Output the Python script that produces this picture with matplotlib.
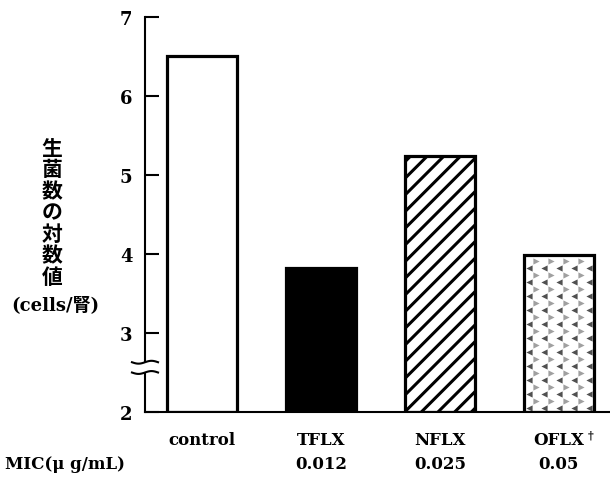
import matplotlib
matplotlib.use("Agg")
import matplotlib.pyplot as plt
import matplotlib.transforms as mtransforms
import numpy as np

plt.rcParams['font.family'] = ['DejaVu Serif', 'Noto Sans CJK JP']
plt.rcParams['font.weight'] = 'bold'

drugs = ["control", "TFLX", "NFLX", "OFLX"]
log_counts = [6.51, 3.82, 5.24, 3.99]
mic_values = ["", "0.012", "0.025", "0.05"]
hatches = [None, None, "//", None]
faces = ["white", "black", "white", "white"]

fig = plt.figure(figsize=(6.1, 4.85), dpi=100)
ax = fig.add_axes([145 / 610, 72 / 485, 465 / 610, 395 / 485])

x = np.arange(len(drugs))
heights = np.array(log_counts) - 2
bar_w = 0.59

plt.rcParams['hatch.linewidth'] = 2.2
# fill / hatch layer first, then a black outline on top
fills = ax.bar(x, heights, bottom=2, width=bar_w, color=faces,
               edgecolor="black", linewidth=0, zorder=2)
for patch, h in zip(fills, hatches):
    if h:
        patch.set_hatch(h)
ax.bar(x, heights, bottom=2, width=bar_w, fill=False, edgecolor="black",
       linewidth=2.3, zorder=3)

ax.set_xlim(-0.479, 3.43)
ax.set_ylim(2, 7)

# stippled texture for OFLX: staggered rows of small grey marks
dotted = fills[3]
px_to_x = (3.43 + 0.479) / 465
px_to_y = 5 / 395
rows = np.arange(2 + 4 * px_to_y, log_counts[3], 7 * px_to_y)
for r, yy in enumerate(rows):
    start = x[3] - bar_w / 2 + (5 if r % 2 == 0 else 12) * px_to_x
    xs = np.arange(start, x[3] + bar_w / 2, 15 * px_to_x)
    sc = ax.scatter(xs, np.full_like(xs, yy), s=20,
                    color="#505050" if r % 2 == 0 else "#a0a0a0",
                    marker="<" if r % 2 == 0 else ">", linewidths=0, zorder=2.5)
    sc.set_clip_path(dotted)

ax.set_yticks([2, 3, 4, 5, 6, 7])
ax.tick_params(axis='y', direction='in', length=10, width=1.5, pad=9,
               labelsize=13)
ax.set_xticks([])
for side in ("top", "right"):
    ax.spines[side].set_visible(False)
ax.spines["left"].set_linewidth(1.5)
ax.spines["bottom"].set_linewidth(1.5)

# axis break between 2 and 3
trans = mtransforms.blended_transform_factory(ax.transAxes, ax.transData)
ax.fill_between([-0.01, 0.01], 2.515, 2.615, color="white", transform=trans,
                clip_on=False, zorder=4)
wx = np.linspace(-0.028, 0.028, 40)
wave = 0.018 * np.sin(wx / 0.028 * np.pi)
for y0 in (2.63, 2.50):
    ax.plot(wx, y0 + wave, color="black", lw=1.5, transform=trans,
            clip_on=False, zorder=5)

# category labels and MIC values
xtrans = mtransforms.blended_transform_factory(ax.transData, ax.transAxes)
for i, name in enumerate(drugs):
    ax.annotate(name, (x[i], 0), xycoords=xtrans, xytext=(0, -20),
                textcoords="offset points", ha="center", va="center",
                fontsize=12, fontweight="bold")
    if mic_values[i]:
        ax.annotate(mic_values[i], (x[i], 0), xycoords=xtrans, xytext=(0, -37),
                    textcoords="offset points", ha="center", va="center",
                    fontsize=12, fontweight="bold")
ax.annotate("\u2020", (x[3], 0), xycoords=xtrans, xytext=(23, -16),
            textcoords="offset points", ha="center", va="center", fontsize=8,
            fontweight="bold")

fig.text(5 / 610, 1 - 465 / 485, "MIC(\u03bc g/mL)", ha="left", va="center",
         fontsize=12, fontweight="bold")

fig.text(52 / 610, 1 - 213 / 485, "\n".join("生菌数の対数値"), ha="center",
         va="center", fontsize=15, fontweight="bold", linespacing=1.03,
         family=['Noto Sans CJK JP'])
fig.text(55 / 610, 1 - 305 / 485, "(cells/腎)", ha="center", va="center",
         fontsize=13, fontweight="bold")

fig.savefig("out.png", dpi=100)
